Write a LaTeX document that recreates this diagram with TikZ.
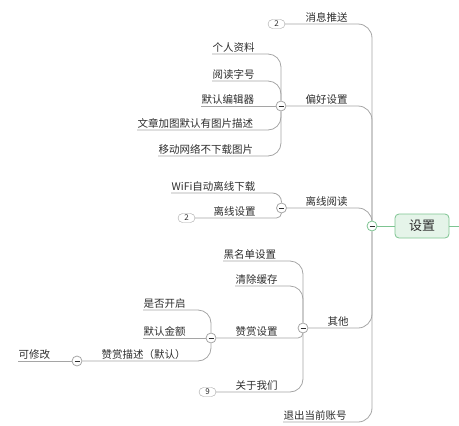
\documentclass[tikz,border=0pt]{standalone}
\usepackage{fontspec}
\setmainfont{Noto Sans CJK SC}
\definecolor{linegray}{RGB}{165,165,165}
\definecolor{textgray}{RGB}{45,45,45}
\definecolor{rootgreen}{RGB}{125,196,145}
\definecolor{rootfill}{RGB}{229,244,233}
\pgfdeclarelayer{background}
\pgfsetlayers{background,main}

\begin{document}
\begin{tikzpicture}[x=1pt,y=-1pt,
  topic/.style={anchor=south west, inner xsep=0.5pt, inner ysep=1.5pt, text=textgray,
    font=\fontsize{10.5}{12}\selectfont},
  fold/.style={circle, draw=#1, fill=white, minimum size=10pt, inner sep=0pt, line width=0.8pt,
    path picture={\draw[textgray, line width=0.9pt]
      ([xshift=-2.5pt]path picture bounding box.center) -- ([xshift=2.5pt]path picture bounding box.center);}},
  fold/.default=linegray,
  badge/.style={draw=linegray, fill=white, rounded corners=4.5pt, minimum width=17pt,
    minimum height=9pt, inner sep=0pt, text=textgray, font=\fontsize{8}{9}\selectfont},
  branch/.style={draw=linegray, line width=0.8pt, rounded corners=#1},
  branch/.default=13pt]
  \useasboundingbox (0,0) rectangle (459,426);

  % central topic
  \node[draw=rootgreen, fill=rootfill, rounded corners=4pt, line width=0.8pt, minimum width=54pt,
    minimum height=24pt, text=textgray, font=\fontsize{13}{15}\selectfont] (root) at (422,226) {设置};
  \coordinate (rootout) at (459,226);
  \node[fold=rootgreen] (rootc) at (372,226) {};

  % main branches
  \node[badge] (msgb) at (276.5,24) {2};
  \node[topic] (msg) at (305,24) {消息推送};
  \node[fold] (prefc) at (281,106) {};
  \node[topic] (pref) at (305,106) {偏好设置};
  \node[fold] (offc) at (281.5,208) {};
  \node[topic] (off) at (305,208) {离线阅读};
  \node[fold] (otherc) at (303,328) {};
  \node[topic] (other) at (327,328) {其他};
  \node[topic] (quit) at (283,422) {退出当前账号};

  % 偏好设置
  \node[topic] (pref1) at (212,54) {个人资料};
  \node[topic] (pref2) at (212,81) {阅读字号};
  \node[topic] (pref3) at (201,106) {默认编辑器};
  \node[topic] (pref4) at (137,130) {文章加图默认有图片描述};
  \node[topic] (pref5) at (158,156) {移动网络不下载图片};

  % 离线阅读
  \node[topic] (off1) at (171,193) {WiFi自动离线下载};
  \node[badge] (off2b) at (186.5,218) {2};
  \node[topic] (off2) at (213,218) {离线设置};

  % 其他
  \node[topic] (other1) at (223,261) {黑名单设置};
  \node[topic] (other2) at (235,286) {清除缓存};
  \node[fold] (rewc) at (211,338) {};
  \node[topic] (other3) at (235,338) {赞赏设置};
  \node[badge] (other4b) at (207.5,392) {9};
  \node[topic] (other4) at (235,392) {关于我们};

  % 赞赏设置
  \node[topic] (rew1) at (143,310) {是否开启};
  \node[topic] (rew2) at (143,338) {默认金额};
  \node[fold] (descc) at (77,361) {};
  \node[topic] (rew3) at (101,361) {赞赏描述（默认）};
  \node[topic] (desc1) at (18,361) {可修改};

  \begin{pgfonlayer}{background}
    \draw[rootgreen, line width=0.8pt] (rootc) -- (root.west) (root.east) -- (rootout);
    \draw[branch=14pt] (msgb.east) -| (rootc);
    \draw[branch=14pt] (prefc) -| (rootc);
    \draw[branch=14pt] (offc) -| (rootc);
    \draw[branch=14pt] (otherc) -| (rootc);
    \draw[branch=14pt] (quit.south west) -| (rootc);

    \draw[branch] (pref1.south west) -| (prefc);
    \draw[branch] (pref2.south west) -| (prefc);
    \draw[branch] (pref3.south west) -- (prefc);
    \draw[branch] (pref4.south west) -| (prefc);
    \draw[branch] (pref5.south west) -| (prefc);

    \draw[branch=9pt] (off1.south west) -| (offc);
    \draw[branch=5pt] (off2b.east) -| (offc);

    \draw[branch] (other1.south west) -| (otherc);
    \draw[branch] (other2.south west) -| (otherc);
    \draw[branch=5pt] (rewc) -| (otherc);
    \draw[branch] (other4b.east) -| (otherc);

    \draw[branch] (rew1.south west) -| (rewc);
    \draw[branch] (rew2.south west) -- (rewc);
    \draw[branch] (descc) -| (rewc);
    \draw[branch] (desc1.south west) -- (descc);
  \end{pgfonlayer}
\end{tikzpicture}
\end{document}
